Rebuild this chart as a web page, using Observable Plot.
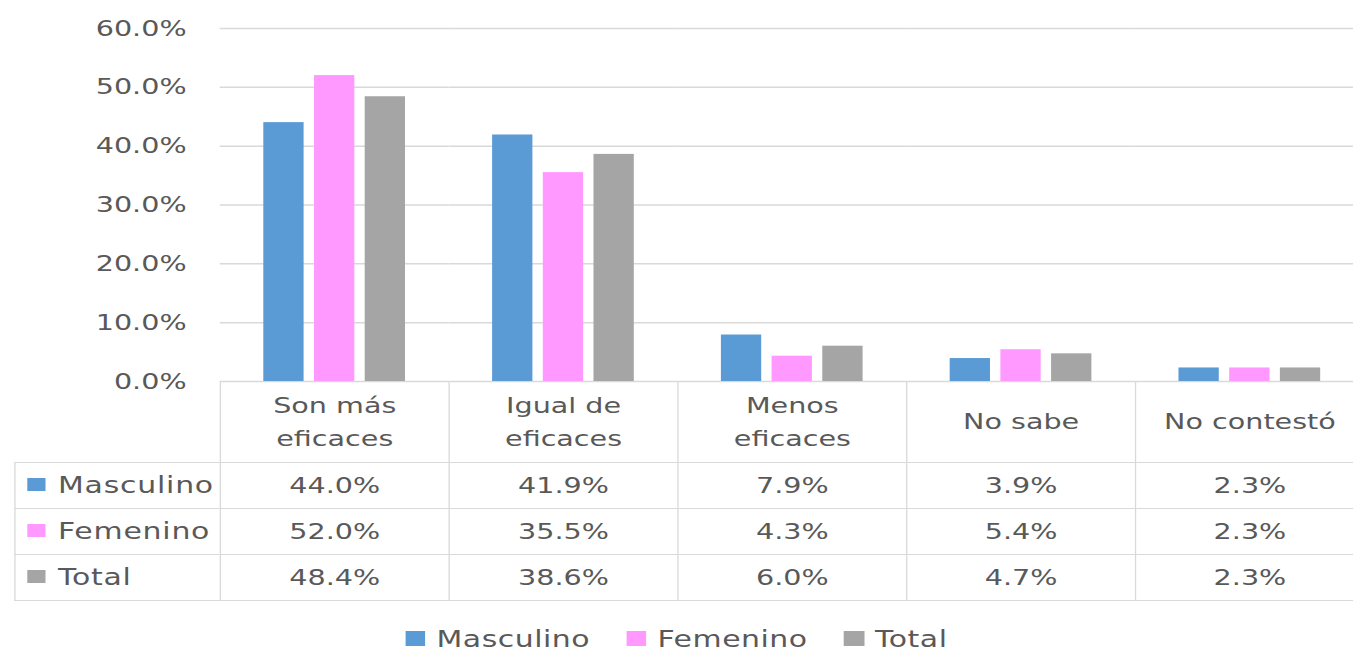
<!DOCTYPE html>
<html><head><meta charset="utf-8">
<script src="https://cdn.jsdelivr.net/npm/d3@7"></script>
<script src="https://cdn.jsdelivr.net/npm/@observablehq/plot@0.6"></script>
<style>
html,body{margin:0;padding:0;background:#fff;overflow:hidden;width:1353px;height:653px;}
#wrap{position:relative;transform-origin:0 0;font-family:"DejaVu Sans",sans-serif;color:#595959;height:653px;}
#tbl{position:absolute;border-collapse:collapse;table-layout:fixed;font-size:22px;color:#595959;}
#tbl td{border:1px solid #d9d9d9;text-align:center;padding:0;white-space:nowrap;}
#tbl td.lab{text-align:left;padding-left:9px;font-size:23px;letter-spacing:0.6px;}
.sw{display:inline-block;vertical-align:middle;position:relative;top:-2px;}
#legend{position:absolute;left:0;top:624px;text-align:center;font-size:23px;line-height:30px;letter-spacing:0.4px;}
#legend span.item{margin:0 14px;}
</style></head><body><div id="wrap"></div>
<script>
const categories = ["Son más eficaces","Igual de eficaces","Menos eficaces","No sabe","No contestó"];
const categoryLabels = ["Son más\neficaces","Igual de\neficaces","Menos\neficaces","No sabe","No contestó"];
const series = ["Masculino","Femenino","Total"];
const masculino = [44.0,41.9,7.9,3.9,2.3];
const femenino = [52.0,35.5,4.3,5.4,2.3];
const total = [48.4,38.6,6.0,4.7,2.3];
const colors = ["#5b9bd5","#ff99ff","#a5a5a5"];
const yTicks = [0,10,20,30,40,50,60];

const S = 1.3;
const values = [masculino, femenino, total];
const data = [];
series.forEach((s,i)=>categories.forEach((c,j)=>data.push({category:c, series:s, value: values[i][j]})));
const fmt = d => d.toFixed(1) + "%";

const W = 1364 / S;
const chart = Plot.plot({
  width: W, height: 600,
  marginTop: 28, marginBottom: 219, marginLeft: 219/S, marginRight: 0,
  style: {fontFamily:"DejaVu Sans", fontSize:"22px", color:"#595959", background:"transparent", overflow:"visible"},
  fx: {domain: categories, padding: 0, axis: null},
  x: {domain: series, paddingInner: 0.2, paddingOuter: 0.85, axis: null},
  y: {domain:[0,60], axis: null},
  color: {domain: series, range: colors},
  marks: [
    Plot.gridY(yTicks, {stroke:"#d9d9d9", strokeOpacity:1, strokeWidth:1.5}),
    Plot.barY(data, {fx:"category", x:"series", y:"value", fill:"series"}),
    Plot.axisY(yTicks, {tickSize:0, tickPadding:26, tickFormat: fmt, label:null, fontSize:22}),
    Plot.axisFx({anchor:"bottom", tickSize:0, tickPadding:0, label:null, dy:37, lineAnchor:"middle", lineHeight:1.5, fontSize:22,
      tickFormat: d => categoryLabels[categories.indexOf(d)]})
  ]
});

const wrap = document.getElementById("wrap");
wrap.style.width = W + "px";
wrap.style.transform = `scaleX(${S})`;
wrap.appendChild(chart);

// data table aligned with the fx scale
const fx = chart.scale("fx");
const bw = fx.bandwidth;
const tbl = document.createElement("table");
tbl.id = "tbl";
const left0 = 14 / S;
tbl.style.left = left0 + "px";
tbl.style.top = "381px";
const firstW = fx.apply(categories[0]) - left0;
let html = `<colgroup><col style="width:${firstW}px">` + categories.map(()=>`<col style="width:${bw}px">`).join("") + `</colgroup>`;
html += `<tr style="height:81px"><td style="border:none;border-bottom:1px solid #d9d9d9;border-right:1px solid #d9d9d9"></td>` +
  categories.map(()=>`<td style="border-top:none"></td>`).join("") + `</tr>`;
series.forEach((s,i)=>{
  html += `<tr style="height:46px"><td class="lab"><span class="sw" style="width:${19/S}px;height:13px;margin-right:${12/S}px;background:${colors[i]}"></span>${s}</td>` +
    values[i].map(v=>`<td>${fmt(v)}</td>`).join("") + `</tr>`;
});
tbl.innerHTML = html;
tbl.style.width = (firstW + bw*categories.length) + "px";
wrap.appendChild(tbl);

// legend
const lg = document.createElement("div");
lg.id = "legend";
lg.style.width = (1353 / S) + "px";
lg.innerHTML = series.map((s,i)=>`<span class="item"><span class="sw" style="width:${20/S}px;height:15px;margin-right:${11/S}px;background:${colors[i]}"></span>${s}</span>`).join("");
wrap.appendChild(lg);
</script></body></html>
